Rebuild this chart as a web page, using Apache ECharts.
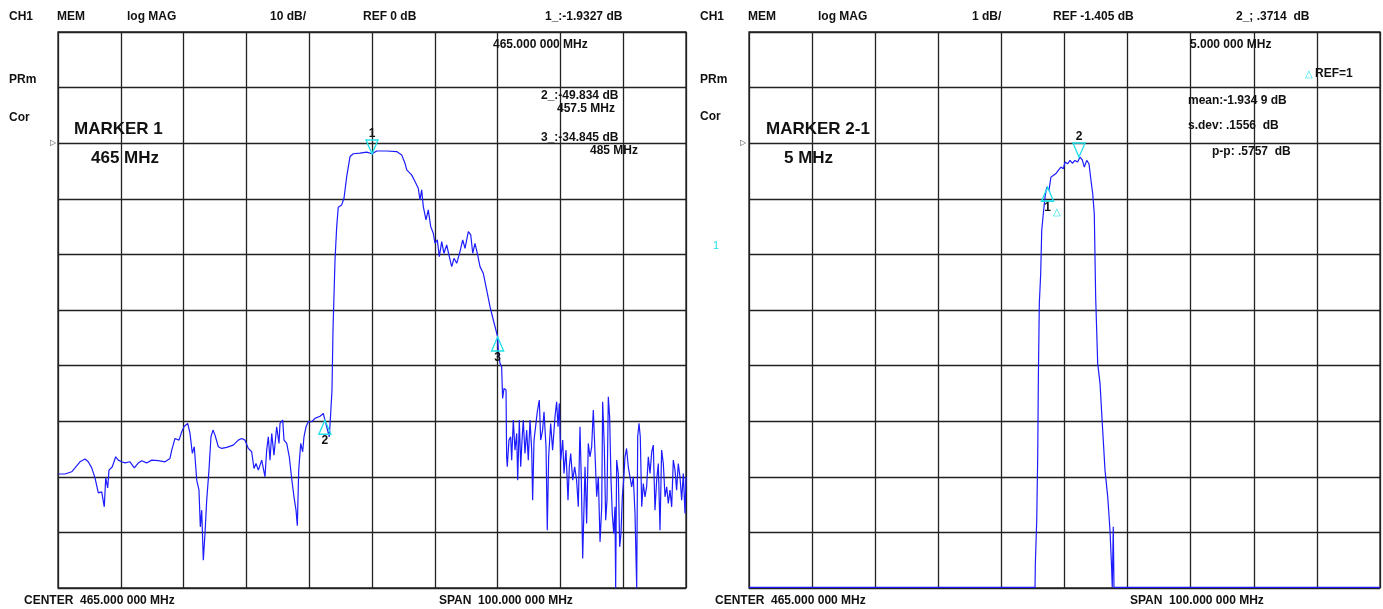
<!DOCTYPE html>
<html>
<head>
<meta charset="utf-8">
<script src="https://cdn.jsdelivr.net/npm/echarts@6/dist/echarts.min.js"></script>
<style>
html,body{margin:0;padding:0;background:#fff;}
#c{width:1383px;height:609px;}
</style>
</head>
<body>
<div id="c"></div>
<script>
// ---- Left panel: log MAG, 10 dB/div, REF 0 dB (frequency in MHz, magnitude in dB)
const freqL = [415.05,416.11,417.18,417.71,418.50,419.30,419.82,420.37,420.89,421.42,421.96,422.37,422.60,422.91,423.12,423.65,424.19,424.60,425.14,425.67,426.46,427.15,427.79,428.33,429.12,429.92,430.97,432.04,432.83,433.11,433.63,434.27,434.70,435.11,435.65,436.02,436.39,436.70,437.09,437.45,437.66,437.88,438.14,438.41,438.68,439.04,439.36,439.68,440.00,440.53,441.07,441.86,442.91,443.71,444.25,444.78,445.30,445.84,446.21,446.53,446.90,447.44,447.96,448.23,448.49,448.76,449.03,449.39,449.82,450.19,450.35,450.78,450.99,451.42,451.83,452.21,452.58,452.90,453.11,453.33,453.65,453.96,454.17,454.49,454.86,455.40,455.92,456.72,457.25,457.50,457.79,458.20,458.42,458.63,458.79,459.11,459.38,459.63,460.17,460.54,460.97,461.50,462.02,463.09,464.16,465.00,465.75,467.34,468.93,469.73,470.25,470.53,471.31,471.85,472.37,472.64,472.91,473.17,473.60,473.96,474.35,474.76,475.03,475.40,475.72,476.10,476.46,476.89,477.31,477.69,478.06,478.49,479.01,479.44,479.81,480.34,480.72,481.04,481.40,481.77,482.20,482.72,483.26,483.79,484.32,485.00,485.11,485.38,485.64,485.80,486.02,486.34,486.44,486.54,486.81,487.08,487.24,487.50,487.77,488.04,488.20,488.46,488.68,488.89,489.09,489.36,489.63,489.89,490.16,490.43,490.58,490.80,491.11,491.32,491.64,491.86,492.17,492.39,492.71,492.91,493.13,493.45,493.76,494.14,494.40,494.62,494.83,495.05,495.37,495.57,495.89,496.21,496.42,496.64,496.96,497.27,497.58,497.85,498.12,498.33,498.55,498.92,499.18,499.44,499.71,499.98,500.24,500.51,500.78,501.04,501.31,501.58,501.73,501.99,502.21,502.42,502.63,502.84,503.06,503.26,503.49,503.69,503.80,503.96,504.22,504.44,504.65,504.86,505.07,505.29,505.54,505.81,506.08,506.35,506.61,506.88,507.15,507.31,507.52,507.72,507.95,508.20,508.47,508.73,509.00,509.27,509.54,509.79,510.06,510.33,510.59,510.86,511.12,511.39,511.66,511.93,512.18,512.45,512.72,512.98,513.25,513.51,513.77,514.04,514.31,514.57,514.84,515.00];
const dbL = [-59.5,-59.5,-59.1,-58.4,-57.3,-56.8,-57.3,-58.4,-60.2,-62.9,-62.7,-65.4,-60.2,-62.0,-58.8,-58.2,-56.4,-57.0,-57.3,-57.5,-57.3,-58.4,-57.5,-57.1,-57.5,-57.0,-57.1,-57.3,-56.7,-55.2,-53.1,-53.4,-51.9,-50.9,-50.4,-52.2,-55.8,-54.6,-60.6,-62.4,-69.0,-66.0,-75.0,-70.1,-64.2,-58.8,-52.8,-51.6,-52.5,-54.6,-54.9,-54.7,-54.3,-53.4,-53.1,-53.4,-54.9,-55.5,-58.5,-57.6,-58.8,-57.0,-60.0,-55.2,-52.8,-57.0,-52.2,-56.1,-51.0,-54.0,-50.4,-49.8,-53.4,-54.0,-56.4,-60.3,-63.6,-66.0,-68.8,-58.8,-54.0,-55.5,-52.8,-51.0,-50.1,-50.1,-49.5,-49.1,-48.6,-49.8,-51.0,-52.8,-48.6,-44.4,-33.6,-21.0,-15.0,-11.5,-11.1,-9.9,-6.0,-2.4,-1.9,-1.8,-1.6,-1.9,-1.4,-1.4,-1.5,-2.1,-3.6,-4.8,-5.7,-6.9,-8.1,-10.2,-8.4,-11.4,-13.8,-12.0,-15.0,-16.2,-18.0,-17.4,-20.4,-17.7,-19.8,-18.3,-20.4,-22.2,-20.7,-21.6,-19.5,-17.4,-18.9,-15.9,-16.5,-19.8,-18.0,-19.8,-22.2,-23.4,-26.4,-29.4,-31.8,-34.8,-37.2,-39.6,-40.2,-45.9,-44.1,-44.4,-56.4,-58.2,-53.4,-52.8,-57.0,-49.8,-55.2,-52.2,-60.6,-49.8,-58.2,-53.4,-49.8,-55.8,-51.6,-57.0,-49.8,-55.2,-64.2,-53.4,-50.4,-48.3,-46.2,-53.4,-51.6,-48.3,-54.6,-69.6,-56.4,-50.4,-55.2,-49.2,-46.5,-51.0,-46.8,-57.0,-53.4,-59.4,-55.2,-64.2,-58.2,-55.8,-60.6,-58.2,-60.6,-65.4,-51.0,-60.6,-74.7,-58.2,-68.4,-54.0,-56.4,-54.6,-48.0,-47.7,-63.6,-60.0,-71.7,-65.4,-46.5,-54.6,-67.8,-64.2,-45.6,-49.2,-60.6,-66.6,-70.2,-65.4,-80.0,-57.0,-59.4,-72.6,-70.2,-63.6,-60.6,-56.4,-54.9,-58.2,-60.0,-61.8,-60.0,-66.6,-80.0,-52.8,-50.4,-52.8,-65.4,-61.2,-63.6,-61.8,-56.4,-59.4,-55.5,-54.3,-66.0,-60.6,-57.6,-69.6,-55.2,-57.6,-63.6,-61.8,-64.8,-62.4,-65.4,-57.0,-58.8,-62.4,-57.6,-60.0,-64.2,-59.4,-66.6,-60.0];

// ---- Right panel: log MAG, 1 dB/div, REF -1.405 dB
const freqR = [415.00,460.33,460.38,460.60,460.76,460.86,461.01,461.23,461.39,461.64,461.91,462.18,462.54,462.85,463.22,463.60,464.02,464.44,464.81,465.08,465.51,465.87,466.24,466.66,467.09,467.46,467.82,468.14,468.52,468.88,469.20,469.47,469.72,469.94,470.26,470.63,470.99,471.42,471.85,472.21,472.48,472.57,472.73,472.84,515.00];
const dbR = [-9.39,-9.39,-8.96,-8.18,-6.98,-5.60,-4.28,-3.74,-2.97,-2.67,-2.37,-2.19,-2.25,-2.01,-1.98,-1.95,-1.89,-1.83,-1.86,-1.74,-1.77,-1.71,-1.76,-1.71,-1.74,-1.65,-1.70,-1.83,-1.71,-1.77,-2.07,-2.31,-2.67,-4.17,-5.36,-5.72,-6.44,-7.28,-7.76,-8.36,-9.08,-9.39,-8.30,-9.39,-9.39];

// markers [freq MHz, dB, label]
const markersL = [[465.0, -1.9327, '1', 'down'], [457.5, -49.834, '2', 'up'], [485.0, -34.845, '3', 'up']];
const markersR = [[462.31, -2.19, '1', 'up'], [467.30, -1.65, '2', 'down']];

const headerL = ['CH1','MEM','log MAG','10 dB/','REF 0 dB','1_:-1.9327 dB'];
const headerR = ['CH1','MEM','log MAG','1 dB/','REF -1.405 dB','2_; .3714  dB'];

const FONT = '"Liberation Sans", Arial, sans-serif';
const GRIDC = '#222';
const CYAN = '#22e0e8';
const BLUE = '#1c1cff';

function pairs(xs, ys){ return xs.map((x,i)=>[x, ys[i]]); }

function markData(list){
  return list.map(m => {
    const down = m[3] === 'down';
    return {
      coord: [m[0], m[1]],
      symbol: 'triangle',
      symbolSize: [12, 14],
      symbolRotate: down ? 180 : 0,
      symbolOffset: [0, down ? -7 : 7],
      itemStyle: {color: 'rgba(255,255,255,0)', borderColor: CYAN, borderWidth: 1.4},
      label: {show: true, formatter: m[2], position: down ? 'top' : 'bottom', distance: 0,
               color: '#111', fontFamily: FONT, fontSize: 12, fontWeight: 'bold'}
    };
  });
}

function axisX(gi){
  return {type:'value', gridIndex: gi, min: 415, max: 515, interval: 10,
    axisLine:{show:false}, axisTick:{show:false}, axisLabel:{show:false},
    splitLine:{show:true, lineStyle:{color:GRIDC, width:1.3}}};
}
function axisY(gi, mn, mx, iv){
  return {type:'value', gridIndex: gi, min: mn, max: mx, interval: iv,
    axisLine:{show:false}, axisTick:{show:false}, axisLabel:{show:false},
    splitLine:{show:true, lineStyle:{color:GRIDC, width:1.3}}};
}

function txt(s, x, y, opt){
  opt = opt || {};
  return {type:'text', x: x, y: y, z: 100, silent: true,
    style:{text: s, fill: opt.fill || '#111', font: (opt.weight||'bold') + ' ' + (opt.size||12) + 'px ' + FONT,
      verticalAlign:'middle', align: opt.align || 'left'}};
}

const hdrXL = [9, 57, 127, 270, 363, 545];
const hdrXR = [700, 748, 818, 972, 1053, 1236];

const graphics = [];
headerL.forEach((s,i)=>graphics.push(txt(s, hdrXL[i], 17)));
headerR.forEach((s,i)=>graphics.push(txt(s, hdrXR[i], 17)));
[
  ['PRm', 9, 80], ['Cor', 9, 118], ['PRm', 700, 80], ['Cor', 700, 117],
  ['465.000 000 MHz', 493, 45], ['2_:-49.834 dB', 541, 96], ['457.5 MHz', 557, 109],
  ['3_:-34.845 dB', 541, 138], ['485 MHz', 590, 151],
  ['5.000 000 MHz', 1190, 45], ['REF=1', 1315, 74],
  ['mean:-1.934 9 dB', 1188, 101], ['s.dev: .1556  dB', 1188, 126], ['p-p: .5757  dB', 1212, 152],
  ['CENTER  465.000 000 MHz', 24, 601], ['SPAN  100.000 000 MHz', 439, 601],
  ['CENTER  465.000 000 MHz', 715, 601], ['SPAN  100.000 000 MHz', 1130, 601]
].forEach(t=>graphics.push(txt(t[0], t[1], t[2])));
graphics.push(txt('MARKER 1', 74, 129, {size:17}));
graphics.push(txt('465 MHz', 91, 158, {size:17}));
graphics.push(txt('MARKER 2-1', 766, 129, {size:17}));
graphics.push(txt('5 MHz', 784, 158, {size:17}));
graphics.push(txt('\u25B3', 1305, 74, {fill: CYAN, weight:'normal', size:10}));
graphics.push(txt('\u25B3', 1053, 212, {fill: CYAN, weight:'normal', size:10}));
graphics.push(txt('1', 713, 246, {fill: CYAN, weight:'normal', size:11}));
graphics.push(txt('\u25B7', 50, 143, {fill: '#555', weight:'normal', size:8}));
graphics.push(txt('\u25B7', 740, 143, {fill: '#555', weight:'normal', size:8}));

const chart = echarts.init(document.getElementById('c'), null, {renderer:'canvas'});
chart.setOption({
  backgroundColor: '#fff',
  animation: false,
  grid: [
    {left: 58, top: 32, width: 628, height: 556, show: true, borderColor: GRIDC, borderWidth: 1.3},
    {left: 749, top: 32, width: 631, height: 556, show: true, borderColor: GRIDC, borderWidth: 1.3}
  ],
  xAxis: [axisX(0), axisX(1)],
  yAxis: [axisY(0, -80, 20, 10), axisY(1, -9.4, 0.6, 1)],
  series: [
    {type:'line', xAxisIndex:0, yAxisIndex:0, data: pairs(freqL, dbL), showSymbol:false, clip:true,
     lineStyle:{color: BLUE, width: 1.2}, z: 5,
     markPoint:{data: markData(markersL), z: 6}},
    {type:'line', xAxisIndex:1, yAxisIndex:1, data: pairs(freqR, dbR), showSymbol:false, clip:true,
     lineStyle:{color: BLUE, width: 1.2}, z: 5,
     markPoint:{data: markData(markersR), z: 6}}
  ],
  graphic: graphics
});
</script>
</body>
</html>
